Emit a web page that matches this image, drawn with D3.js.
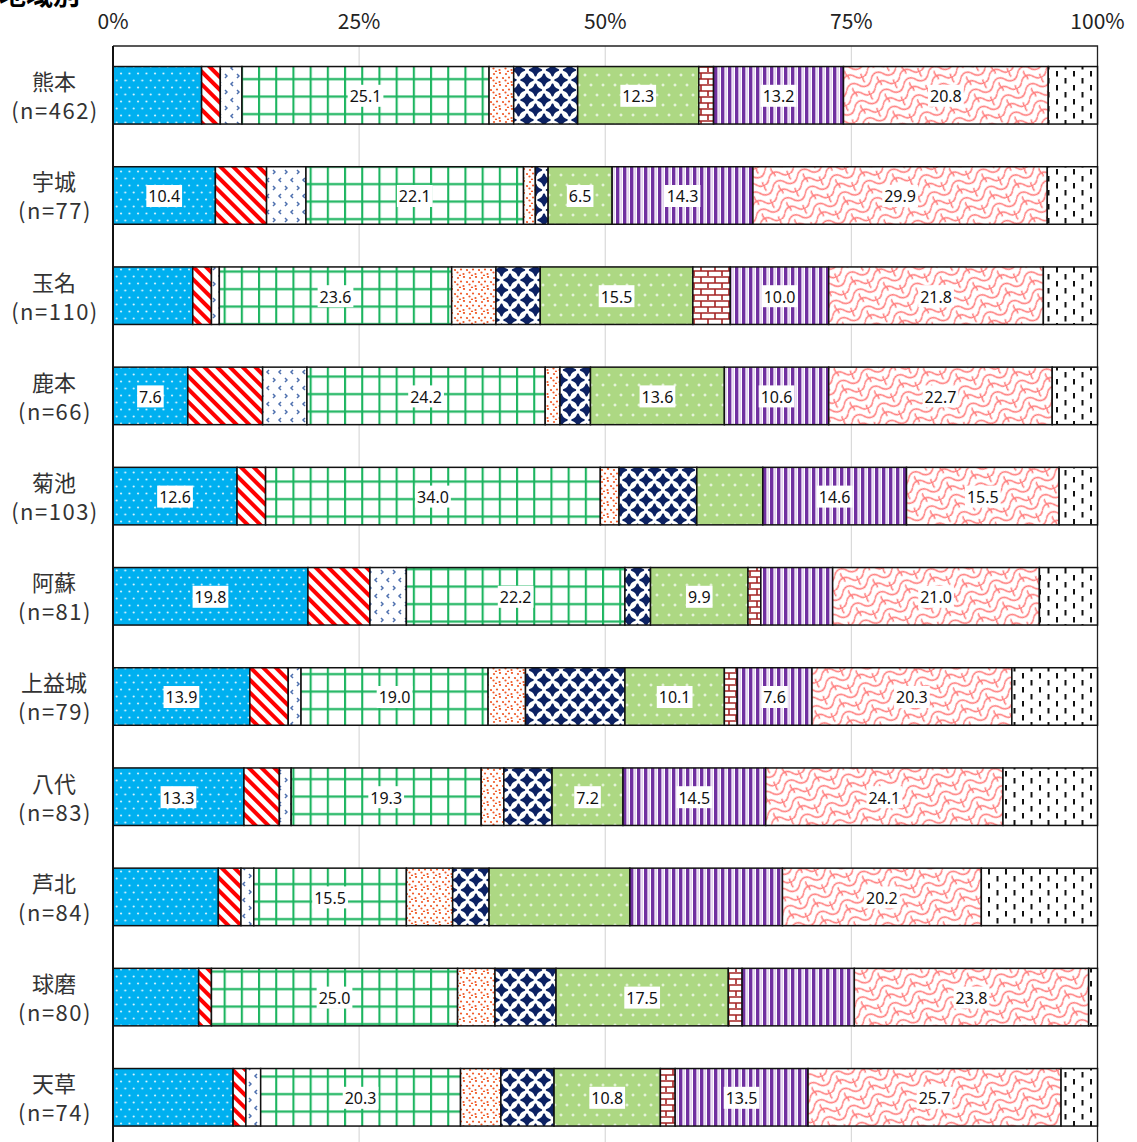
<!DOCTYPE html>
<html>
<head>
<meta charset="utf-8">
<script src="https://cdn.jsdelivr.net/npm/d3@7"></script>
<style>
  body { margin: 0; background: #fff; }
  svg { display: block; }
</style>
</head>
<body>
<svg width="1137" height="1142"></svg>
<script>
// regions and sample sizes
var regions = ["熊本", "宇城", "玉名", "鹿本", "菊池", "阿蘇", "上益城", "八代", "芦北", "球磨", "天草"];
var sampleSizes = [462, 77, 110, 66, 103, 81, 79, 83, 84, 80, 74];
var tickValues = [0, 25, 50, 75, 100];

// one array per answer (in stack order), percent per region
var s01 = [9.0, 10.4, 8.1, 7.6, 12.6, 19.8, 13.9, 13.3, 10.7, 8.7, 12.2];
var s02 = [1.9, 5.2, 1.9, 7.6, 2.9, 6.3, 3.9, 3.6, 2.3, 1.3, 1.3];
var s03 = [2.2, 4.0, 0.8, 4.5, 0, 3.7, 1.3, 1.2, 1.3, 0, 1.5];
var s04 = [25.1, 22.1, 23.6, 24.2, 34.0, 22.2, 19.0, 19.3, 15.5, 25.0, 20.3];
var s05 = [2.5, 1.2, 4.5, 1.5, 1.9, 0, 3.8, 2.3, 4.7, 3.8, 4.1];
var s06 = [6.5, 1.3, 4.5, 3.1, 7.9, 2.6, 10.1, 4.9, 3.7, 6.2, 5.4];
var s07 = [12.3, 6.5, 15.5, 13.6, 6.7, 9.9, 10.1, 7.2, 14.3, 17.5, 10.8];
var s08 = [1.5, 0, 3.8, 0, 0, 1.3, 1.3, 0, 0, 1.4, 1.5];
var s09 = [13.2, 14.3, 10.0, 10.6, 14.6, 7.3, 7.6, 14.5, 15.5, 11.4, 13.5];
var s10 = [20.8, 29.9, 21.8, 22.7, 15.5, 21.0, 20.3, 24.1, 20.2, 23.8, 25.7];
var s11 = [5.0, 5.1, 5.5, 4.6, 3.9, 5.9, 8.7, 9.6, 11.8, 0.9, 3.7];

// which values carry a data label (1 = shown)
var s01Shown = [0, 1, 0, 1, 1, 1, 1, 1, 0, 0, 0];
var s04Shown = [1, 1, 1, 1, 1, 1, 1, 1, 1, 1, 1];
var s07Shown = [1, 1, 1, 1, 0, 1, 1, 1, 0, 1, 1];
var s09Shown = [1, 1, 1, 1, 1, 0, 1, 1, 0, 0, 1];
var s10Shown = [1, 1, 1, 1, 1, 1, 1, 1, 1, 1, 1];

var seriesArrays = { s01: s01, s02: s02, s03: s03, s04: s04, s05: s05, s06: s06,
                     s07: s07, s08: s08, s09: s09, s10: s10, s11: s11 };
var shownArrays = { s01: s01Shown, s04: s04Shown, s07: s07Shown, s09: s09Shown, s10: s10Shown };
var keys = Object.keys(seriesArrays);

var table = regions.map(function(r, i) {
  var row = { region: r, n: sampleSizes[i], index: i };
  keys.forEach(function(k) { row[k] = seriesArrays[k][i]; });
  return row;
});

var svg = d3.select("svg"),
    width = +svg.attr("width"),
    height = +svg.attr("height");

var plotLeft = 113, plotRight = 1097.5, plotTop = 46;
var step = 100.2, padIn = 0.426, padOut = 0.205;

var x = d3.scaleLinear().domain([0, 100]).range([plotLeft, plotRight]);
var y = d3.scaleBand().domain(regions)
    .range([plotTop, plotTop + step * (regions.length - padIn + 2 * padOut)])
    .paddingInner(padIn).paddingOuter(padOut);

// ---- fill patterns ----
var defs = svg.append("defs");
defs.append("filter").attr("id", "soft")
  .append("feGaussianBlur").attr("stdDeviation", 0.6);

function pat(id, w, h, bg) {
  var p = defs.append("pattern").attr("id", id)
      .attr("patternUnits", "userSpaceOnUse")
      .attr("width", w).attr("height", h);
  if (bg) p.append("rect").attr("width", w).attr("height", h).attr("fill", bg);
  return p;
}

var p = pat("p01", 8.5, 14, "#00B0F0");
[[2, 3.5], [6.25, 10.5]].forEach(function(c) {
  p.append("circle").attr("cx", c[0]).attr("cy", c[1]).attr("r", 1).attr("fill", "#fff").attr("opacity", 0.9);
});

p = pat("p02", 9, 9, "#fff").attr("patternTransform", "rotate(-45)");
p.append("rect").attr("width", 4).attr("height", 9).attr("fill", "#FF0000");

p = pat("p03", 12, 16, "#fff");
p.append("path").attr("d", "M5,2 L3,4 L5,6 M9,10 L11,12 L9,14")
    .attr("fill", "none").attr("stroke", "#4D6FAE").attr("stroke-width", 1.5);

p = pat("p04", 17.2, 17.5, "#fff");
p.append("path").attr("d", "M1,0 V17.5 M0,9 H17.2")
    .attr("stroke", "#1DB560").attr("stroke-width", 2.2);

p = pat("p05", 12, 12, "#fff");
[[2, 2], [8, 1], [5, 5.5], [11, 6], [1.5, 8.5], [7.5, 10], [4, 11.5]].forEach(function(c) {
  p.append("circle").attr("cx", c[0]).attr("cy", c[1]).attr("r", 1.1).attr("fill", "#F05A28");
});

p = pat("p06", 17, 20, "#fff");
var pg = p.append("g").attr("filter", "url(#soft)");
[[0, 0], [17, 0], [0, 20], [17, 20], [8.5, 10]].forEach(function(c) {
  var hw = 5.6, hh = 5.4, k = 1.2;
  pg.append("path")
      .attr("d", "M" + c[0] + "," + (c[1] - hh) +
                 " Q" + (c[0] + k) + "," + (c[1] - k) + " " + (c[0] + hw) + "," + c[1] +
                 " Q" + (c[0] + k) + "," + (c[1] + k) + " " + c[0] + "," + (c[1] + hh) +
                 " Q" + (c[0] - k) + "," + (c[1] + k) + " " + (c[0] - hw) + "," + c[1] +
                 " Q" + (c[0] - k) + "," + (c[1] - k) + " " + c[0] + "," + (c[1] - hh) + "Z")
      .attr("fill", "#0B2463").attr("stroke", "#0B2463").attr("stroke-width", 2.2).attr("stroke-linejoin", "round");
});

p = pat("p07", 12, 20, "#ADD883");
p.append("path").attr("d", "M3,3.5 V6.5 M1.5,5 H4.5 M9,13.5 V16.5 M7.5,15 H10.5")
    .attr("stroke", "#fff").attr("stroke-width", 1).attr("opacity", 0.9);

p = pat("p08", 14, 12, "#fff");
p.append("path").attr("d", "M0,1 H14 M0,7 H14 M1,1 V7 M8,7 V13")
    .attr("stroke", "#A52424").attr("stroke-width", 1.6);

p = pat("p09", 7, 10, "#fff");
p.append("rect").attr("width", 3.4).attr("height", 10).attr("fill", "#7030A0");
p.append("rect").attr("x", 4.6).attr("width", 1).attr("height", 10).attr("fill", "#D2B8E6");

p = pat("p10", 20, 14, "#fff").attr("patternTransform", "rotate(-25) scale(1.35)");
p.append("path")
    .attr("d", "M0,4 C3,0 7,0 10,4 C13,8 17,8 20,4 M5,4 C3,7 7,9 5,11 M15,4 C13,1 17,-1 15,-3 M0,11 C3,7 7,7 10,11 C13,15 17,15 20,11 M15,11 C13,14 17,16 15,18")
    .attr("fill", "none").attr("stroke", "#FF7A7A").attr("stroke-width", 1.1);

p = pat("p11", 17, 14, "#fff");
p.append("rect").attr("x", 2).attr("y", 1).attr("width", 2).attr("height", 5.5).attr("fill", "#111");
p.append("rect").attr("x", 10.5).attr("y", 8).attr("width", 2).attr("height", 5.5).attr("fill", "#111");

// ---- title ----
svg.append("text")
    .attr("x", -1).attr("y", 5)
    .attr("font-family", "'Noto Sans CJK JP'")
    .attr("font-weight", "bold")
    .attr("font-size", 27)
    .text("地域別");

// ---- gridlines ----
svg.append("g").selectAll("line")
    .data([25, 50, 75])
  .enter().append("line")
    .attr("x1", function(d) { return x(d); })
    .attr("x2", function(d) { return x(d); })
    .attr("y1", plotTop).attr("y2", height)
    .attr("stroke", "#D9D9D9").attr("stroke-width", 1.2);

// plot border
svg.append("path")
    .attr("d", "M" + plotLeft + "," + plotTop + " H" + plotRight + " V" + height)
    .attr("fill", "none").attr("stroke", "#222").attr("stroke-width", 1.3);

// ---- top axis tick labels ----
svg.append("g").selectAll("text")
    .data(tickValues)
  .enter().append("text")
    .attr("x", function(d) { return x(d); })
    .attr("y", 20)
    .attr("text-anchor", "middle")
    .attr("dominant-baseline", "central")
    .attr("font-family", "'Noto Sans CJK JP'")
    .attr("font-size", 21)
    .attr("fill", "#222")
    .text(function(d) { return d + "%"; });

// ---- stacked bars ----
var stacked = d3.stack().keys(keys)(table);

var layer = svg.append("g").selectAll("g")
    .data(stacked)
  .enter().append("g")
    .attr("fill", function(d, i) { return "url(#p" + d3.format("02")(i + 1) + ")"; });

layer.selectAll("rect")
    .data(function(d) { return d.filter(function(e) { return e[1] - e[0] > 0; }); })
  .enter().append("rect")
    .attr("x", function(d) { return x(d[0]); })
    .attr("y", function(d) { return y(d.data.region); })
    .attr("width", function(d) { return x(d[1]) - x(d[0]); })
    .attr("height", y.bandwidth())
    .attr("stroke", "#111")
    .attr("stroke-width", 1.5);

// left axis line
svg.append("line")
    .attr("x1", plotLeft).attr("x2", plotLeft)
    .attr("y1", plotTop).attr("y2", height)
    .attr("stroke", "#111").attr("stroke-width", 2);

// ---- data labels ----
var labelG = svg.append("g");
stacked.forEach(function(s) {
  var shown = shownArrays[s.key];
  if (!shown) return;
  s.forEach(function(d, i) {
    if (!shown[i]) return;
    var cx = (x(d[0]) + x(d[1])) / 2,
        cy = y(d.data.region) + y.bandwidth() / 2;
    var g = labelG.append("g");
    var bg = g.append("rect").attr("fill", "#fff");
    var t = g.append("text")
        .attr("x", cx).attr("y", cy + 1)
        .attr("text-anchor", "middle")
        .attr("dominant-baseline", "central")
        .attr("font-family", "'Noto Sans'")
        .attr("font-size", 16)
        .attr("fill", "#111")
        .text(d3.format(".1f")(d[1] - d[0]));
    var w = t.node().getComputedTextLength() + 4;
    bg.attr("x", cx - w / 2).attr("y", cy - 10.5).attr("width", w).attr("height", 22);
  });
});

// ---- region labels ----
var rowLabel = svg.append("g").selectAll("g")
    .data(table)
  .enter().append("g")
    .attr("font-family", "'Noto Sans CJK JP'")
    .attr("font-size", 22)
    .attr("fill", "#333")
    .attr("text-anchor", "middle");

rowLabel.append("text")
    .attr("x", 54)
    .attr("y", function(d) { return y(d.region) + y.bandwidth() / 2 - 15; })
    .attr("dominant-baseline", "central")
    .text(function(d) { return d.region; });

rowLabel.append("text")
    .attr("x", 55)
    .attr("y", function(d) { return y(d.region) + y.bandwidth() / 2 + 14; })
    .attr("dominant-baseline", "central")
    .attr("letter-spacing", 1.5)
    .text(function(d) { return "(n=" + d.n + ")"; });
</script>
</body>
</html>
